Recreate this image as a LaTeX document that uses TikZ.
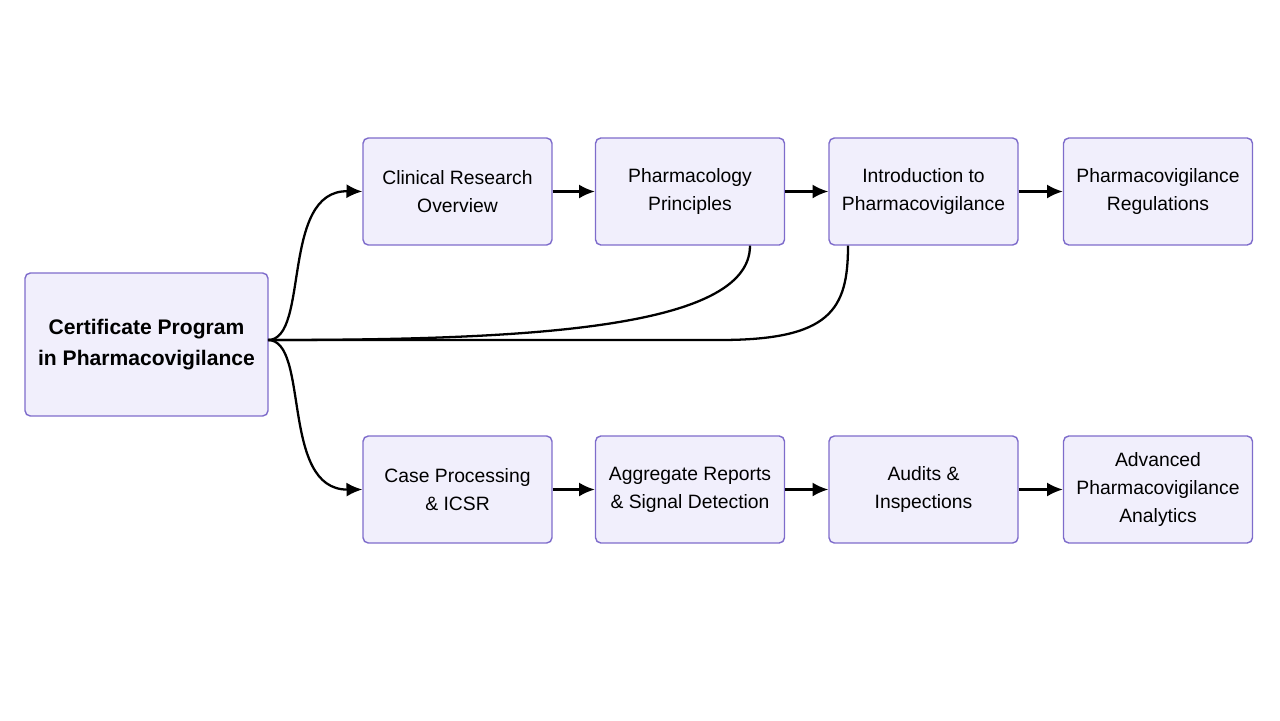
\documentclass[tikz,border=0pt]{standalone}
\usepackage{fontspec}
\setmainfont{Liberation Sans}
\usetikzlibrary{arrows.meta}
\definecolor{bfill}{HTML}{F1EFFC}
\definecolor{bdraw}{HTML}{7E6CCB}
\begin{document}
\begin{tikzpicture}[x=0.02cm,y=-0.02cm,
  box/.style={draw=bdraw,fill=bfill,rounded corners=3pt,line width=0.8pt,align=center,
    minimum width=3.78cm,minimum height=2.14cm,inner sep=2pt,font=\fontsize{11}{16}\selectfont},
  big/.style={box,minimum width=4.86cm,minimum height=2.86cm,font=\fontsize{12}{18}\selectfont\bfseries},
  arr/.style={-{Latex[length=9pt,width=8pt]},line width=1.3pt},
  ln/.style={line width=1.3pt}]
\useasboundingbox (0,0) rectangle (1280,720);
\node[big] (c) at (146.5,344.5) {Certificate Program\\in Pharmacovigilance};
\node[box] (t1) at (457.5,191.5) {Clinical Research\\Overview};
\node[box] (t2) at (690,191.5) {Pharmacology\\Principles};
\node[box] (t3) at (923.5,191.5) {Introduction to\\Pharmacovigilance};
\node[box] (t4) at (1158,191.5) {Pharmacovigilance\\Regulations};
\node[box] (b1) at (457.5,489.5) {Case Processing\\\& ICSR};
\node[box] (b2) at (690,489.5) {Aggregate Reports\\\& Signal Detection};
\node[box] (b3) at (923.5,489.5) {Audits \&\\Inspections};
\node[box] (b4) at (1158,489.5) {Advanced\\Pharmacovigilance\\Analytics};
\coordinate (s) at (268,340);
\draw[arr] (s) .. controls (310,340) and (280,190) .. (t1.west);
\draw[arr] (s) .. controls (310,340) and (280,490) .. (b1.west);
\draw[arr] (t1) -- (t2); \draw[arr] (t2) -- (t3); \draw[arr] (t3) -- (t4);
\draw[arr] (b1) -- (b2); \draw[arr] (b2) -- (b3); \draw[arr] (b3) -- (b4);
\coordinate (p) at ([xshift=1.2cm]t2.south);
\coordinate (q) at ([xshift=-1.51cm]t3.south);
\draw[ln] (s) .. controls (520,340) and (750,330) .. (p);
\draw[ln] (s) -- (720,340) .. controls (830,340) and (848,310) .. (q);
\end{tikzpicture}
\end{document}
